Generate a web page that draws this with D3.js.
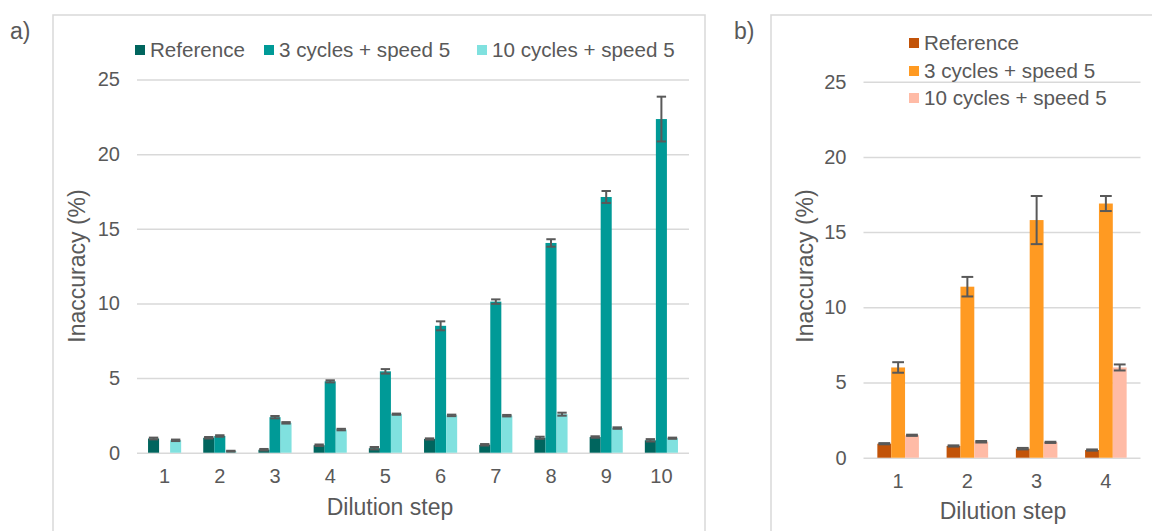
<!DOCTYPE html>
<html>
<head>
<meta charset="utf-8">
<script src="https://cdn.jsdelivr.net/npm/d3@7"></script>
<style>
  body { margin: 0; background: #fff; }
  svg { display: block; font-family: "Liberation Sans", Arial, sans-serif; }
  .grid line { stroke: #d9d9d9; stroke-width: 1.5; }
  .tick text { fill: #595959; font-size: 20px; }
  .lbl { fill: #595959; font-size: 20.6px; }
  .ttl { fill: #595959; font-size: 23px; }
</style>
</head>
<body>
<div id="chart"></div>
<script>
// panel a data
const stepsA = ["1", "2", "3", "4", "5", "6", "7", "8", "9", "10"];
const refA = [0.95, 1.0, 0.2, 0.5, 0.3, 0.92, 0.53, 1.0, 1.05, 0.83];
const refAErr = [0.06, 0.05, 0.05, 0.05, 0.08, 0.04, 0.05, 0.07, 0.05, 0.08];
const cyc3A = [0, 1.12, 2.38, 4.78, 5.45, 8.5, 10.12, 14.05, 17.13, 22.35];
const cyc3AErr = [0, 0.05, 0.08, 0.07, 0.15, 0.3, 0.15, 0.25, 0.4, 1.5];
const cyc10A = [0.83, 0.1, 2.0, 1.55, 2.58, 2.5, 2.48, 2.58, 1.65, 0.97];
const cyc10AErr = [0.05, 0.03, 0.05, 0.05, 0.04, 0.05, 0.05, 0.1, 0.05, 0.04];

// panel b data
const stepsB = ["1", "2", "3", "4"];
const refB = [0.93, 0.78, 0.6, 0.51];
const refBErr = [0.04, 0.04, 0.05, 0.04];
const cyc3B = [6.0, 11.37, 15.8, 16.9];
const cyc3BErr = [0.35, 0.65, 1.6, 0.5];
const cyc10B = [1.49, 1.06, 1.02, 6.0];
const cyc10BErr = [0.04, 0.05, 0.04, 0.2];

const seriesNames = ["Reference", "3 cycles + speed 5", "10 cycles + speed 5"];
const yTicks = [0, 5, 10, 15, 20, 25];

const width = 1152, height = 531;
const svg = d3.select("#chart").append("svg")
    .attr("width", width)
    .attr("height", height);

function drawPanel(opt) {
    let g = svg.append("g");

    // frame
    g.append("rect")
        .attr("x", opt.frame[0]).attr("y", opt.frame[1])
        .attr("width", opt.frame[2]).attr("height", opt.frame[3])
        .attr("fill", "none").attr("stroke", "#d9d9d9").attr("stroke-width", 1.5);

    g.append("text").attr("class", "lbl")
        .attr("x", opt.tag[0]).attr("y", opt.tag[1])
        .style("font-size", "23px")
        .text(opt.tagText);

    let x = d3.scaleBand().domain(opt.steps).range([opt.left, opt.right]);
    let y = d3.scaleLinear().domain([0, 25]).range([opt.bottom, opt.top]);
    let xs = d3.scaleBand().domain([0, 1, 2])
        .range([x.bandwidth() * 0.2, x.bandwidth() * 0.8]);

    // gridlines + y labels
    g.append("g").attr("class", "grid")
        .attr("transform", `translate(${opt.left},0)`)
        .call(d3.axisLeft(y).tickValues(yTicks).tickSize(-(opt.right - opt.left)).tickPadding(17))
        .call(a => a.select(".domain").remove());

    // x labels
    g.append("g")
        .attr("transform", `translate(0,${opt.bottom})`)
        .call(d3.axisBottom(x).tickSize(0).tickPadding(16))
        .call(a => a.select(".domain").remove());

    let rows = opt.steps.map((s, i) => ({
        step: s,
        vals: [opt.s0[i], opt.s1[i], opt.s2[i]],
        errs: [opt.e0[i], opt.e1[i], opt.e2[i]]
    }));

    let grp = g.selectAll(".grp").data(rows).enter().append("g")
        .attr("transform", d => `translate(${x(d.step)},0)`);

    let items = grp.selectAll(".item")
        .data(d => d.vals.map((v, k) => ({ k: k, v: v, e: d.errs[k] })))
        .enter().append("g");

    items.append("rect")
        .attr("x", d => xs(d.k))
        .attr("width", xs.bandwidth())
        .attr("y", d => y(d.v))
        .attr("height", d => y(0) - y(d.v))
        .attr("fill", d => opt.colors[d.k]);

    // error bars
    let capW = xs.bandwidth() * 0.85;
    let eb = items.filter(d => d.v > 0);
    eb.append("line")
        .attr("x1", d => xs(d.k) + xs.bandwidth() / 2)
        .attr("x2", d => xs(d.k) + xs.bandwidth() / 2)
        .attr("y1", d => y(d.v - d.e)).attr("y2", d => y(d.v + d.e))
        .attr("stroke", "#595959").attr("stroke-width", 2);
    [-1, 1].forEach(sgn => {
        eb.append("line")
            .attr("x1", d => xs(d.k) + (xs.bandwidth() - capW) / 2)
            .attr("x2", d => xs(d.k) + (xs.bandwidth() + capW) / 2)
            .attr("y1", d => y(d.v + sgn * d.e)).attr("y2", d => y(d.v + sgn * d.e))
            .attr("stroke", "#595959").attr("stroke-width", 2);
    });

    // axis titles
    g.append("text").attr("class", "ttl")
        .attr("text-anchor", "middle")
        .attr("transform", `translate(${opt.yTitle[0]},${opt.yTitle[1]}) rotate(-90)`)
        .text("Inaccuracy (%)");
    g.append("text").attr("class", "ttl")
        .attr("text-anchor", "middle")
        .attr("x", opt.xTitle[0]).attr("y", opt.xTitle[1])
        .text("Dilution step");

    // legend
    let lg = g.selectAll(".leg").data(seriesNames).enter().append("g")
        .attr("transform", (d, i) => `translate(${opt.legend[i][0]},${opt.legend[i][1]})`);
    lg.append("rect")
        .attr("x", 0).attr("y", -5).attr("width", 10).attr("height", 10)
        .attr("fill", (d, i) => opt.colors[i]);
    lg.append("text").attr("class", "lbl")
        .attr("x", 15).attr("y", 7)
        .text(d => d);
}

drawPanel({
    frame: [53, 15, 652, 530],
    tag: [10, 39], tagText: "a)",
    steps: stepsA,
    left: 137, right: 689, top: 79.5, bottom: 452.7,
    s0: refA, s1: cyc3A, s2: cyc10A,
    e0: refAErr, e1: cyc3AErr, e2: cyc10AErr,
    colors: ["#00655e", "#009a97", "#80e1df"],
    yTitle: [85, 266], xTitle: [390, 515],
    legend: [[135, 50], [264, 50], [477, 50]]
});

drawPanel({
    frame: [771, 15, 400, 530],
    tag: [734, 39], tagText: "b)",
    steps: stepsB,
    left: 863.5, right: 1140.5, top: 81.7, bottom: 457.7,
    s0: refB, s1: cyc3B, s2: cyc10B,
    e0: refBErr, e1: cyc3BErr, e2: cyc10BErr,
    colors: ["#c25308", "#ff9a22", "#ffbba6"],
    yTitle: [813, 266], xTitle: [1003, 519],
    legend: [[909, 43], [909, 71], [909, 98]]
});
</script>
</body>
</html>
